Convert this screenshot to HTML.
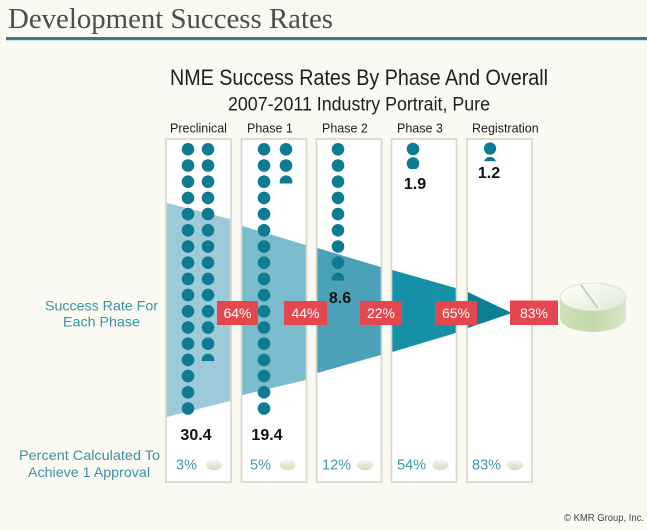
<!DOCTYPE html>
<html><head><meta charset="utf-8"><style>
html,body{margin:0;padding:0;background:#fafaf2;}
svg{display:block;}
</style></head><body>
<svg width="647" height="530" viewBox="0 0 647 530" xmlns="http://www.w3.org/2000/svg">
<defs>
<linearGradient id="pt" x1="0" y1="0" x2="1" y2="1"><stop offset="0" stop-color="#ffffff"/><stop offset="1" stop-color="#dfe9d2"/></linearGradient>
<linearGradient id="ps" x1="0" y1="0" x2="1" y2="0"><stop offset="0" stop-color="#cfe0bb"/><stop offset="0.5" stop-color="#c3d8ab"/><stop offset="1" stop-color="#d9e6ca"/></linearGradient>
<linearGradient id="sp" x1="0" y1="0" x2="0" y2="1"><stop offset="0" stop-color="#f4f7ee"/><stop offset="1" stop-color="#cfdcbf"/></linearGradient>
<clipPath id="c1"><rect x="190" y="340" width="30" height="21"/></clipPath>
<clipPath id="c2"><rect x="270" y="170" width="30" height="13.5"/></clipPath>
<clipPath id="c3"><rect x="325" y="268" width="30" height="12.5"/></clipPath>
<clipPath id="c4"><rect x="400" y="150" width="30" height="19"/></clipPath>
<clipPath id="c5"><rect x="478" y="150" width="30" height="11.3"/></clipPath>
</defs>
<rect width="647" height="530" fill="#fafaf2"/>
<text x="8" y="28" font-family="Liberation Serif, serif" font-size="29" fill="#4d4d48" textLength="325" lengthAdjust="spacingAndGlyphs">Development Success Rates</text>
<rect x="6" y="37" width="641" height="3.2" fill="#3c7a8b"/>

<text x="170" y="85" font-family="Liberation Sans, sans-serif" font-size="22" fill="#1e1e1e" textLength="378" lengthAdjust="spacingAndGlyphs">NME Success Rates By Phase And Overall</text>
<text x="228" y="110.5" font-family="Liberation Sans, sans-serif" font-size="19" fill="#1e1e1e" textLength="262" lengthAdjust="spacingAndGlyphs">2007-2011 Industry Portrait, Pure</text>

<g font-family="Liberation Sans, sans-serif" font-size="12.5" fill="#1e1e1e">
<text x="170" y="132.5">Preclinical</text>
<text x="247" y="132.5">Phase 1</text>
<text x="322" y="132.5">Phase 2</text>
<text x="397" y="132.5">Phase 3</text>
<text x="472" y="132.5">Registration</text>
</g>

<g fill="#ffffff" stroke="#d6d6c6" stroke-width="1.6">
<rect x="166" y="139" width="65" height="343"/>
<rect x="241.5" y="139" width="65" height="343"/>
<rect x="316.5" y="139" width="65" height="343"/>
<rect x="391.5" y="139" width="65" height="343"/>
<rect x="467" y="139" width="65" height="343"/>
</g>

<polygon points="166.8,203 230.2,219 230.2,401 166.8,417" fill="#9dcad8"/>
<polygon points="242.3,226 305.7,245 305.7,380 242.3,395" fill="#7abbcd"/>
<polygon points="317.3,248 380.7,267 380.7,355 317.3,373" fill="#4aa1b8"/>
<polygon points="392.3,270 455.7,288 455.7,333 392.3,352" fill="#1690a6"/>
<polygon points="467.8,292 512,313 467.8,328" fill="#0e7e95"/>

<g fill="#0d7b91">
<!-- Preclinical col A: 17 dots -->
<circle cx="188" cy="149.3" r="6.3"/><circle cx="188" cy="165.5" r="6.3"/><circle cx="188" cy="181.7" r="6.3"/><circle cx="188" cy="197.9" r="6.3"/><circle cx="188" cy="214.1" r="6.3"/><circle cx="188" cy="230.3" r="6.3"/><circle cx="188" cy="246.5" r="6.3"/><circle cx="188" cy="262.7" r="6.3"/><circle cx="188" cy="278.9" r="6.3"/><circle cx="188" cy="295.1" r="6.3"/><circle cx="188" cy="311.3" r="6.3"/><circle cx="188" cy="327.5" r="6.3"/><circle cx="188" cy="343.7" r="6.3"/><circle cx="188" cy="359.9" r="6.3"/><circle cx="188" cy="376.1" r="6.3"/><circle cx="188" cy="392.3" r="6.3"/><circle cx="188" cy="408.5" r="6.3"/>
<!-- Preclinical col B: 13 + partial -->
<circle cx="208" cy="149.3" r="6.3"/><circle cx="208" cy="165.5" r="6.3"/><circle cx="208" cy="181.7" r="6.3"/><circle cx="208" cy="197.9" r="6.3"/><circle cx="208" cy="214.1" r="6.3"/><circle cx="208" cy="230.3" r="6.3"/><circle cx="208" cy="246.5" r="6.3"/><circle cx="208" cy="262.7" r="6.3"/><circle cx="208" cy="278.9" r="6.3"/><circle cx="208" cy="295.1" r="6.3"/><circle cx="208" cy="311.3" r="6.3"/><circle cx="208" cy="327.5" r="6.3"/><circle cx="208" cy="343.7" r="6.3"/>
<circle cx="208" cy="359.9" r="6.3" clip-path="url(#c1)"/>
<!-- Phase 1 col A: 17 dots -->
<circle cx="264" cy="149.3" r="6.3"/><circle cx="264" cy="165.5" r="6.3"/><circle cx="264" cy="181.7" r="6.3"/><circle cx="264" cy="197.9" r="6.3"/><circle cx="264" cy="214.1" r="6.3"/><circle cx="264" cy="230.3" r="6.3"/><circle cx="264" cy="246.5" r="6.3"/><circle cx="264" cy="262.7" r="6.3"/><circle cx="264" cy="278.9" r="6.3"/><circle cx="264" cy="295.1" r="6.3"/><circle cx="264" cy="311.3" r="6.3"/><circle cx="264" cy="327.5" r="6.3"/><circle cx="264" cy="343.7" r="6.3"/><circle cx="264" cy="359.9" r="6.3"/><circle cx="264" cy="376.1" r="6.3"/><circle cx="264" cy="392.3" r="6.3"/><circle cx="264" cy="408.5" r="6.3"/>
<!-- Phase 1 col B -->
<circle cx="286" cy="149.3" r="6.3"/><circle cx="286" cy="165.5" r="6.3"/>
<circle cx="286" cy="181.7" r="6.3" clip-path="url(#c2)"/>
<!-- Phase 2 -->
<circle cx="338" cy="149.3" r="6.3"/><circle cx="338" cy="165.5" r="6.3"/><circle cx="338" cy="181.7" r="6.3"/><circle cx="338" cy="197.9" r="6.3"/><circle cx="338" cy="214.1" r="6.3"/><circle cx="338" cy="230.3" r="6.3"/><circle cx="338" cy="246.5" r="6.3"/><circle cx="338" cy="262.7" r="6.3"/>
<circle cx="338" cy="278.9" r="6.3" clip-path="url(#c3)"/>
<!-- Phase 3 -->
<circle cx="413" cy="149" r="6.3"/>
<circle cx="413" cy="163.5" r="6.3" clip-path="url(#c4)"/>
<!-- Registration -->
<circle cx="490" cy="148.5" r="6.1"/>
<circle cx="490" cy="163.2" r="6.3" clip-path="url(#c5)"/>
</g>

<g font-family="Liberation Sans, sans-serif" font-size="16" font-weight="bold" fill="#111" text-anchor="middle">
<text x="196" y="440">30.4</text>
<text x="267" y="440">19.4</text>
<text x="340" y="303">8.6</text>
<text x="415" y="189">1.9</text>
<text x="489" y="178">1.2</text>
</g>

<g fill="#e5474e">
<rect x="217" y="301" width="41" height="24"/>
<rect x="284" y="301" width="43" height="24"/>
<rect x="360" y="301" width="42" height="24"/>
<rect x="435" y="301" width="42" height="24"/>
<rect x="510" y="300.5" width="48" height="24.5"/>
</g>
<g font-family="Liberation Sans, sans-serif" font-size="14" fill="#ffffff" text-anchor="middle">
<text x="237.5" y="318">64%</text>
<text x="305.5" y="318">44%</text>
<text x="381" y="318">22%</text>
<text x="456" y="318">65%</text>
<text x="534" y="318">83%</text>
</g>

<!-- big pill -->
<path d="M560,297 L560,318 A33,14 0 0 0 626,318 L626,297 Z" fill="url(#ps)"/>
<ellipse cx="593" cy="297" rx="33" ry="14" fill="url(#pt)" stroke="#d3e1c4" stroke-width="0.8"/>
<line x1="581" y1="285" x2="598" y2="308" stroke="#c3d3b2" stroke-width="2"/>
<line x1="583" y1="284.5" x2="600" y2="307.5" stroke="#ffffff" stroke-width="1"/>

<g font-family="Liberation Sans, sans-serif" font-size="14" fill="#3a92a5" text-anchor="middle">
<text x="101.5" y="310.7" textLength="113" lengthAdjust="spacingAndGlyphs">Success Rate For</text>
<text x="101.5" y="326.7" textLength="77" lengthAdjust="spacingAndGlyphs">Each Phase</text>
<text x="89.5" y="460" textLength="141" lengthAdjust="spacingAndGlyphs">Percent Calculated To</text>
<text x="89" y="477" textLength="122" lengthAdjust="spacingAndGlyphs">Achieve 1 Approval</text>
</g>

<g font-family="Liberation Sans, sans-serif" font-size="14.5" fill="#3f95aa">
<text x="176" y="469.5">3%</text>
<text x="250" y="469.5">5%</text>
<text x="322" y="469.5">12%</text>
<text x="397" y="469.5">54%</text>
<text x="472" y="469.5">83%</text>
</g>
<g>
<ellipse cx="214" cy="465" rx="8" ry="5.2" fill="url(#sp)"/>
<ellipse cx="287.5" cy="465" rx="8" ry="5.2" fill="url(#sp)"/>
<ellipse cx="365" cy="465" rx="8" ry="5.2" fill="url(#sp)"/>
<ellipse cx="440.5" cy="465" rx="8" ry="5.2" fill="url(#sp)"/>
<ellipse cx="515" cy="465" rx="8" ry="5.2" fill="url(#sp)"/>
</g>

<text x="644" y="521" font-family="Liberation Sans, sans-serif" font-size="10" fill="#444" text-anchor="end" textLength="80" lengthAdjust="spacingAndGlyphs">© KMR Group, Inc.</text>
</svg>
</body></html>
